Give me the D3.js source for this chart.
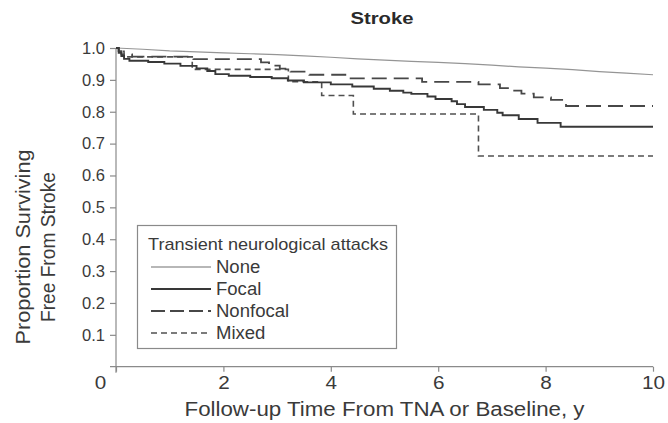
<!DOCTYPE html>
<html>
<head>
<meta charset="utf-8">
<script src="https://cdn.jsdelivr.net/npm/d3@7"></script>
<style>
  html, body { margin: 0; padding: 0; background: #fff; }
  svg { display: block; font-family: "Liberation Sans", Arial, Helvetica, sans-serif; }
</style>
</head>
<body>
<svg id="chart" width="668" height="423"></svg>
<script>
// Kaplan-Meier estimates of stroke-free survival by TNA group: [years, proportion]
const noneCurve = [[0,1.0],[0.5,0.996],[1,0.991],[1.5,0.988],[2,0.985],[2.5,0.982],[3,0.979],[3.5,0.975],[4,0.971],[4.5,0.966],[5,0.962],[5.5,0.958],[6,0.955],[6.5,0.951],[7,0.946],[7.5,0.941],[8,0.937],[8.5,0.932],[9,0.926],[9.5,0.921],[10,0.916]];
const focalCurve = [[0,1.0],[0.05,0.985],[0.1,0.975],[0.15,0.966],[0.25,0.960],[0.6,0.956],[0.9,0.951],[1.2,0.944],[1.5,0.936],[1.7,0.928],[1.85,0.918],[2.1,0.913],[2.5,0.909],[2.9,0.905],[3.2,0.898],[3.5,0.892],[4.0,0.886],[4.4,0.879],[4.8,0.872],[5.1,0.866],[5.35,0.860],[5.5,0.856],[5.8,0.848],[5.95,0.840],[6.25,0.833],[6.35,0.824],[6.5,0.815],[6.85,0.806],[7.1,0.797],[7.2,0.789],[7.5,0.777],[7.85,0.765],[8.28,0.753],[10,0.753]];
const nonfocalCurve = [[0,1.0],[0.05,0.99],[0.1,0.98],[0.3,0.973],[1.44,0.965],[2.7,0.955],[2.85,0.945],[3.05,0.935],[3.25,0.926],[3.6,0.916],[4.3,0.905],[5.7,0.894],[6.75,0.886],[7.15,0.874],[7.35,0.866],[7.55,0.857],[7.78,0.845],[8.1,0.837],[8.38,0.818],[10,0.818]];
const mixedCurve = [[0,1.0],[0.05,0.99],[0.15,0.972],[1.42,0.933],[3.21,0.894],[3.83,0.851],[4.42,0.793],[6.75,0.661],[10,0.661]];

const groupNames = ["None", "Focal", "Nonfocal", "Mixed"];
const xTicks = [0, 2, 4, 6, 8, 10];
const yTicks = [0.1, 0.2, 0.3, 0.4, 0.5, 0.6, 0.7, 0.8, 0.9, 1.0];

const chartTitle = "Stroke";
const xTitle = "Follow-up Time From TNA or Baseline, y";
const yTitleLines = ["Proportion Surviving", "Free From Stroke"];
const legendTitle = "Transient neurological attacks";

const svg = d3.select("#chart");
const x = d3.scaleLinear().domain([0, 10]).range([116, 653]);
const y = d3.scaleLinear().domain([0, 1]).range([366.7, 48]);

const axisColor = "#8a8a8a";
const textColor = "#3a3a3a";

// axis lines, each running slightly past the origin
svg.append("line").attr("x1", x(0)).attr("x2", x(0)).attr("y1", y(1)).attr("y2", y(0) + 6)
  .attr("stroke", axisColor).attr("stroke-width", 1.2);
svg.append("line").attr("x1", x(0) - 6).attr("x2", x(10)).attr("y1", y(0)).attr("y2", y(0))
  .attr("stroke", axisColor).attr("stroke-width", 1.2);

const yAxis = svg.append("g").attr("transform", `translate(${x(0)},0)`)
  .call(d3.axisLeft(y).tickValues(yTicks).tickFormat(d3.format(".1f")).tickSize(6).tickPadding(5));
const xAxis = svg.append("g").attr("transform", `translate(0,${y(0)})`)
  .call(d3.axisBottom(x).tickValues(xTicks).tickFormat(d3.format("d")).tickSize(5).tickPadding(5));
[yAxis, xAxis].forEach(g => {
  g.select(".domain").remove();
  g.selectAll(".tick line").attr("stroke", axisColor).attr("stroke-width", 1.2);
  g.selectAll(".tick text").attr("fill", textColor)
    .style("font-family", "Liberation Sans, Arial, sans-serif");
});
yAxis.selectAll(".tick text").style("font-size", "16.5px");
xAxis.selectAll(".tick text").style("font-size", "18px")
  .attr("transform", "scale(1.15,1)")
  .attr("dx", d => d === 0 ? "-14px" : null);

// titles
svg.append("text").attr("x", 382).attr("y", 24).attr("text-anchor", "middle")
  .attr("fill", "#2a2a2a").style("font-size", "17px").style("font-weight", "bold")
  .attr("textLength", 63).attr("lengthAdjust", "spacingAndGlyphs").text(chartTitle);
svg.append("text").attr("x", 384.5).attr("y", 416).attr("text-anchor", "middle")
  .attr("fill", textColor).style("font-size", "19.5px")
  .attr("textLength", 400).attr("lengthAdjust", "spacingAndGlyphs").text(xTitle);
const yTitleLengths = [195, 150];
yTitleLines.forEach((t, i) => {
  svg.append("text")
    .attr("transform", `translate(${30 + i * 25},247) rotate(-90)`)
    .attr("text-anchor", "middle").attr("fill", textColor).style("font-size", "19.5px")
    .attr("textLength", yTitleLengths[i]).attr("lengthAdjust", "spacingAndGlyphs").text(t);
});

// line styles per group
const styles = {
  None:     { color: "#959595", width: 1.2, dash: null },
  Focal:    { color: "#383838", width: 1.9, dash: null },
  Nonfocal: { color: "#474747", width: 1.8, dash: "15,7" },
  Mixed:    { color: "#505050", width: 1.6, dash: "6,4" }
};
const curves = { None: noneCurve, Focal: focalCurve, Nonfocal: nonfocalCurve, Mixed: mixedCurve };

const smooth = d3.line().x(d => x(d[0])).y(d => y(d[1]));
const step = d3.line().x(d => x(d[0])).y(d => y(d[1])).curve(d3.curveStepAfter);

["None", "Mixed", "Nonfocal", "Focal"].forEach(name => {
  const s = styles[name];
  svg.append("path").datum(curves[name])
    .attr("d", name === "None" ? smooth : step)
    .attr("fill", "none").attr("stroke", s.color).attr("stroke-width", s.width)
    .attr("stroke-dasharray", s.dash);
});

// legend
const lg = svg.append("g");
lg.append("rect").attr("x", 137.5).attr("y", 225.5).attr("width", 259).attr("height", 123)
  .attr("fill", "#fff").attr("stroke", "#8a8a8a").attr("stroke-width", 1.2);
lg.append("text").attr("x", 148).attr("y", 249.5).attr("fill", textColor)
  .style("font-size", "17px").attr("textLength", 240).attr("lengthAdjust", "spacingAndGlyphs")
  .text(legendTitle);
groupNames.forEach((name, i) => {
  const yy = 267 + i * 22;
  const s = styles[name];
  lg.append("line").attr("x1", 151).attr("x2", 211).attr("y1", yy).attr("y2", yy)
    .attr("stroke", name === "None" ? "#707070" : s.color).attr("stroke-width", s.width)
    .attr("stroke-dasharray", name === "Nonfocal" ? "14,5" : s.dash);
  lg.append("text").attr("x", 216).attr("y", yy + 6).attr("fill", textColor)
    .style("font-size", "17.5px").attr("transform", `translate(${-216 * 0.06},0) scale(1.06,1)`)
    .text(name);
});
</script>
</body>
</html>
